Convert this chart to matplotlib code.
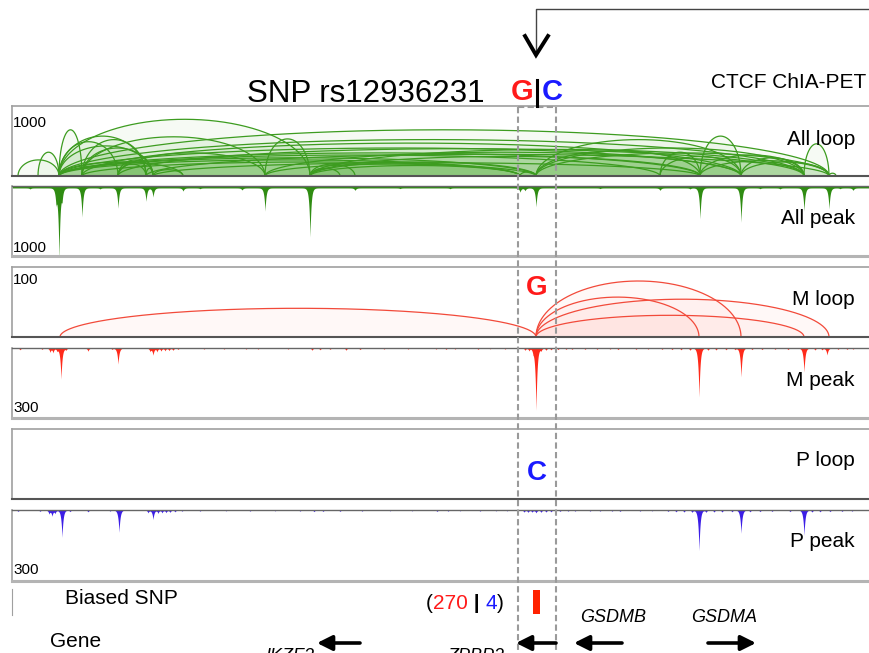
import matplotlib
matplotlib.use('Agg')
import matplotlib.pyplot as plt
import numpy as np

plt.rcParams['font.family'] = ['Liberation Sans', 'DejaVu Sans']

W, H = 869, 653

# shared track coordinate (same units on every track)
x_left, x_right = 12, 869
snp_pos = 537
snp_window = (518, 556)

# loops: (anchor1, anchor2, PET score)
all_loops = [
    (18, 59, 230), (38, 59, 340), (59, 82, 660), (59, 118, 490), (59, 146, 570),
    (59, 153, 430), (82, 146, 520), (82, 153, 400), (118, 146, 170), (118, 153, 230),
    (146, 153, 110), (59, 310, 810), (82, 265, 560), (265, 310, 530), (118, 265, 330),
    (310, 340, 110), (310, 355, 170), (153, 183, 90), (59, 183, 200),
    (59, 829, 660), (59, 804, 520), (82, 741, 470), (59, 741, 400), (59, 700, 330),
    (118, 804, 390), (59, 660, 300), (146, 829, 310), (59, 536, 260), (59, 520, 230),
    (82, 536, 200), (153, 700, 190), (265, 741, 340), (310, 804, 380), (310, 700, 280),
    (310, 536, 200), (265, 520, 170), (310, 520, 150),
    (520, 536, 60), (536, 741, 520), (536, 700, 360), (536, 804, 400), (536, 829, 330),
    (660, 700, 340), (660, 741, 280), (700, 741, 570), (700, 804, 300), (741, 804, 260),
    (804, 829, 460), (700, 829, 220), (741, 829, 200), (829, 836, 40),
]
m_loops = [(60, 536, 41), (536, 741, 80), (536, 699, 57), (536, 829, 54), (536, 804, 31)]
p_loops = []

# peaks: (position, coverage)
all_peaks = [
    (59, 1000), (56, 200), (62, 160), (82, 415), (118, 290), (146, 190), (153, 130),
    (183, 45), (242, 30), (265, 330), (310, 700), (355, 35), (520, 60), (525, 40),
    (536, 270), (660, 35), (700, 440), (741, 490), (804, 330), (829, 300), (853, 35),
]
all_blips = [(30, 15), (100, 15), (200, 12), (400, 10), (450, 12), (600, 10),
             (690, 15), (760, 12), (780, 15), (840, 12)]
all_bg = 28

m_peaks = [(61, 133), (118, 69), (153, 30), (536, 266), (699, 210), (741, 124),
           (804, 103), (827, 30)]
m_blips = [
    (20, 8), (42, 6), (50, 18), (53, 20), (57, 12), (66, 9), (88, 14), (112, 6),
    (150, 14), (157, 16), (161, 13), (165, 12), (169, 11), (173, 10), (178, 6),
    (204, 5), (224, 5), (246, 5), (258, 5), (288, 5), (312, 10), (320, 8), (330, 6),
    (346, 10), (360, 7), (384, 5), (408, 5), (436, 5), (446, 6), (455, 5), (478, 6),
    (490, 4), (505, 5), (525, 10), (529, 12), (533, 14), (541, 12), (546, 10),
    (551, 8), (558, 7), (566, 6), (572, 6), (585, 6), (597, 6), (610, 5), (618, 7),
    (636, 6), (648, 5), (662, 6), (672, 7), (681, 8), (690, 10), (708, 10), (716, 9),
    (726, 8), (735, 7), (752, 7), (762, 7), (775, 6), (788, 7), (815, 9), (822, 8),
    (838, 6), (847, 6), (853, 5),
]

p_peaks = [(62, 115), (119, 94), (153, 40), (52, 25), (699, 171), (741, 98),
           (804, 107), (536, 12)]
p_blips = [
    (18, 6), (40, 6), (49, 16), (55, 14), (70, 7), (88, 8), (110, 5), (148, 12),
    (158, 14), (162, 12), (166, 11), (170, 10), (175, 8), (182, 5), (200, 5),
    (226, 4), (250, 5), (275, 4), (300, 5), (314, 7), (323, 6), (340, 6), (362, 5),
    (390, 4), (412, 4), (437, 6), (448, 5), (460, 4), (480, 5), (496, 4), (507, 4),
    (524, 9), (528, 10), (532, 9), (541, 10), (546, 9), (551, 8), (560, 6), (568, 5),
    (575, 5), (590, 5), (600, 5), (612, 5), (620, 6), (640, 5), (652, 4), (668, 6),
    (676, 8), (684, 9), (692, 10), (706, 10), (714, 9), (722, 9), (732, 8), (750, 8),
    (760, 7), (772, 6), (790, 7), (812, 9), (820, 8), (830, 7), (842, 6), (852, 5),
]

m_count, p_count = 270, 4

# genes: (name, start, end, label x, label baseline)
genes = [
    ('IKZF3', 360, 317, 290, 661),
    ('ZPBP2', 556, 516, 476, 661),
    ('GSDMB', 622, 574, 613, 622),
    ('GSDMA', 708, 756, 724, 622),
]

GREEN = '#2f8c12'
GREEN_LINE = '#3d9c20'
RED = '#ff2a1a'
BLUE = '#3c1ee6'

fig = plt.figure(figsize=(W / 100, H / 100), dpi=100)


def track_axes(top, bottom):
    ax = fig.add_axes([x_left / W, 1 - bottom / H, (x_right - x_left) / W, (bottom - top) / H])
    ax.set_xlim(x_left, x_right)
    ax.set_xticks([])
    ax.set_yticks([])
    ax.spines['right'].set_visible(False)
    return ax


def loop_track(top, bottom, loops, scale, line_c, fill_c, alpha):
    ax = track_axes(top, bottom)
    ax.set_ylim(0, scale)
    for side in ('left', 'top'):
        ax.spines[side].set_color('#a0a0a0')
        ax.spines[side].set_linewidth(1.2)
    ax.spines['bottom'].set_color('#555555')
    ax.spines['bottom'].set_linewidth(1.5)
    t = np.linspace(0, np.pi, 300)
    for a, b, h in loops:
        c, r = (a + b) / 2, (b - a) / 2
        xs = c - r * np.cos(t)
        ys = h * np.sin(t)
        ax.fill(xs, ys, color=fill_c, alpha=alpha, lw=0)
        ax.plot(xs, ys, color=line_c, lw=0.9)
    return ax


def peak_track(top, bottom, peaks, blips, bg, scale, color):
    ax = track_axes(top, bottom)
    ax.set_ylim(scale, 0)
    ax.spines['top'].set_color('#666666')
    ax.spines['top'].set_linewidth(1.0)
    ax.spines['left'].set_color('#a0a0a0')
    ax.spines['left'].set_linewidth(1.2)
    ax.spines['bottom'].set_color('#b4b4b4')
    ax.spines['bottom'].set_linewidth(2.2)
    xs = np.arange(x_left, x_right, 0.2)
    sig = np.full_like(xs, float(bg))
    for p, v in peaks:
        sig += v * np.exp(-np.abs(xs - p) / 1.1)
    for p, v in blips:
        sig += v * np.exp(-np.abs(xs - p) / 1.0)
    ax.fill_between(xs, 0, sig, color=color, lw=0)
    return ax


loop_track(106, 176, all_loops, 1000, GREEN_LINE, '#4fae32', 0.05)
peak_track(186, 256, all_peaks, all_blips, all_bg, 1000, GREEN)
loop_track(267, 337, m_loops, 100, '#f24a3a', '#ff6a5a', 0.045)
peak_track(348, 418, m_peaks, m_blips, 0, 300, RED)
loop_track(429, 499, p_loops, 100, BLUE, BLUE, 0.045)
peak_track(510, 581, p_peaks, p_blips, 0, 300, BLUE)

# biased SNP track
ax_snp = fig.add_axes([x_left / W, 1 - 615 / H, (x_right - x_left) / W, 26 / H])
ax_snp.set_xlim(x_left, x_right)
ax_snp.set_ylim(0, 1)
ax_snp.set_xticks([])
ax_snp.set_yticks([])
for side in ('right', 'top', 'bottom'):
    ax_snp.spines[side].set_visible(False)
ax_snp.spines['left'].set_color('#a0a0a0')
ax_snp.bar([snp_pos], [0.92], width=7, bottom=0.04, color='#ff2200')

# overlay in the same x units, y in rows from the top
ov = fig.add_axes([0, 0, 1, 1])
ov.set_xlim(0, W)
ov.set_ylim(H, 0)
ov.axis('off')
ov.patch.set_alpha(0)

# dashed box around the SNP
dash = dict(color='#9a9a9a', lw=1.5, ls=(0, (3, 1.6)))
for xv in snp_window:
    ov.plot([xv, xv], [107, H], **dash)
ov.plot(list(snp_window), [107, 107], **dash)

# CTCF ChIA-PET pointer
ov.plot([x_right, snp_pos - 1, snp_pos - 1], [9, 9, 55], color='#444444', lw=1.0)
ov.plot([525, snp_pos - 1, 548], [36, 55, 36], color='black', lw=2.8, solid_joinstyle='miter')

ov.text(247, 102, 'SNP rs12936231', fontsize=22.5, ha='left', va='baseline')
ov.text(533, 100, 'G', fontsize=21, fontweight='bold', color='#ff1a1a', ha='right', va='baseline')
ov.text(542, 100, 'C', fontsize=21, fontweight='bold', color='#1a1aff', ha='left', va='baseline')
ov.plot([snp_pos, snp_pos], [80, 106], color='black', lw=2.2)
ov.text(866, 88, 'CTCF ChIA-PET', fontsize=15, ha='right', va='baseline')

track_labels = [('All loop', 145), ('All peak', 224), ('M loop', 305),
                ('M peak', 386), ('P loop', 466), ('P peak', 547)]
for lab, yb in track_labels:
    ov.text(855, yb, lab, fontsize=15, ha='right', va='baseline')

scale_labels = [('1000', 127), ('1000', 252), ('100', 284), ('300', 412), ('300', 574)]
for lab, yb in scale_labels:
    ov.text(13, yb, lab, fontsize=11, ha='left', va='baseline')

ov.text(snp_pos, 295, 'G', fontsize=20, fontweight='bold', color='#ff1a1a', ha='center', va='baseline')
ov.text(snp_pos, 480, 'C', fontsize=20, fontweight='bold', color='#1a1aff', ha='center', va='baseline')

ov.text(65, 604, 'Biased SNP', fontsize=15, ha='left', va='baseline')
ov.text(50, 647, 'Gene', fontsize=15, ha='left', va='baseline')

# allele counts, coloured piece by piece
renderer = fig.canvas.get_renderer()
xc = 426
for s, c in [('(', 'black'), (str(m_count), '#ff1a1a'), (' | ', 'black'),
             (str(p_count), '#1a1aff'), (')', 'black')]:
    t = ov.text(xc, 609, s, fontsize=15, color=c, ha='left', va='baseline',
                fontweight='bold' if s.strip() == '|' else 'normal')
    bb = t.get_window_extent(renderer)
    xc = ov.transData.inverted().transform((bb.x1, bb.y0))[0]

# gene arrows
for name, start, end, lx, ly in genes:
    ov.annotate('', xy=(end, 643), xytext=(start, 643),
                arrowprops=dict(arrowstyle='-|>,head_length=0.9,head_width=0.45',
                                color='black', lw=2.6, shrinkA=0, shrinkB=0))
    ov.text(lx, ly, name, fontsize=13, style='italic', ha='center', va='baseline')

fig.savefig('out.png', dpi=100)
